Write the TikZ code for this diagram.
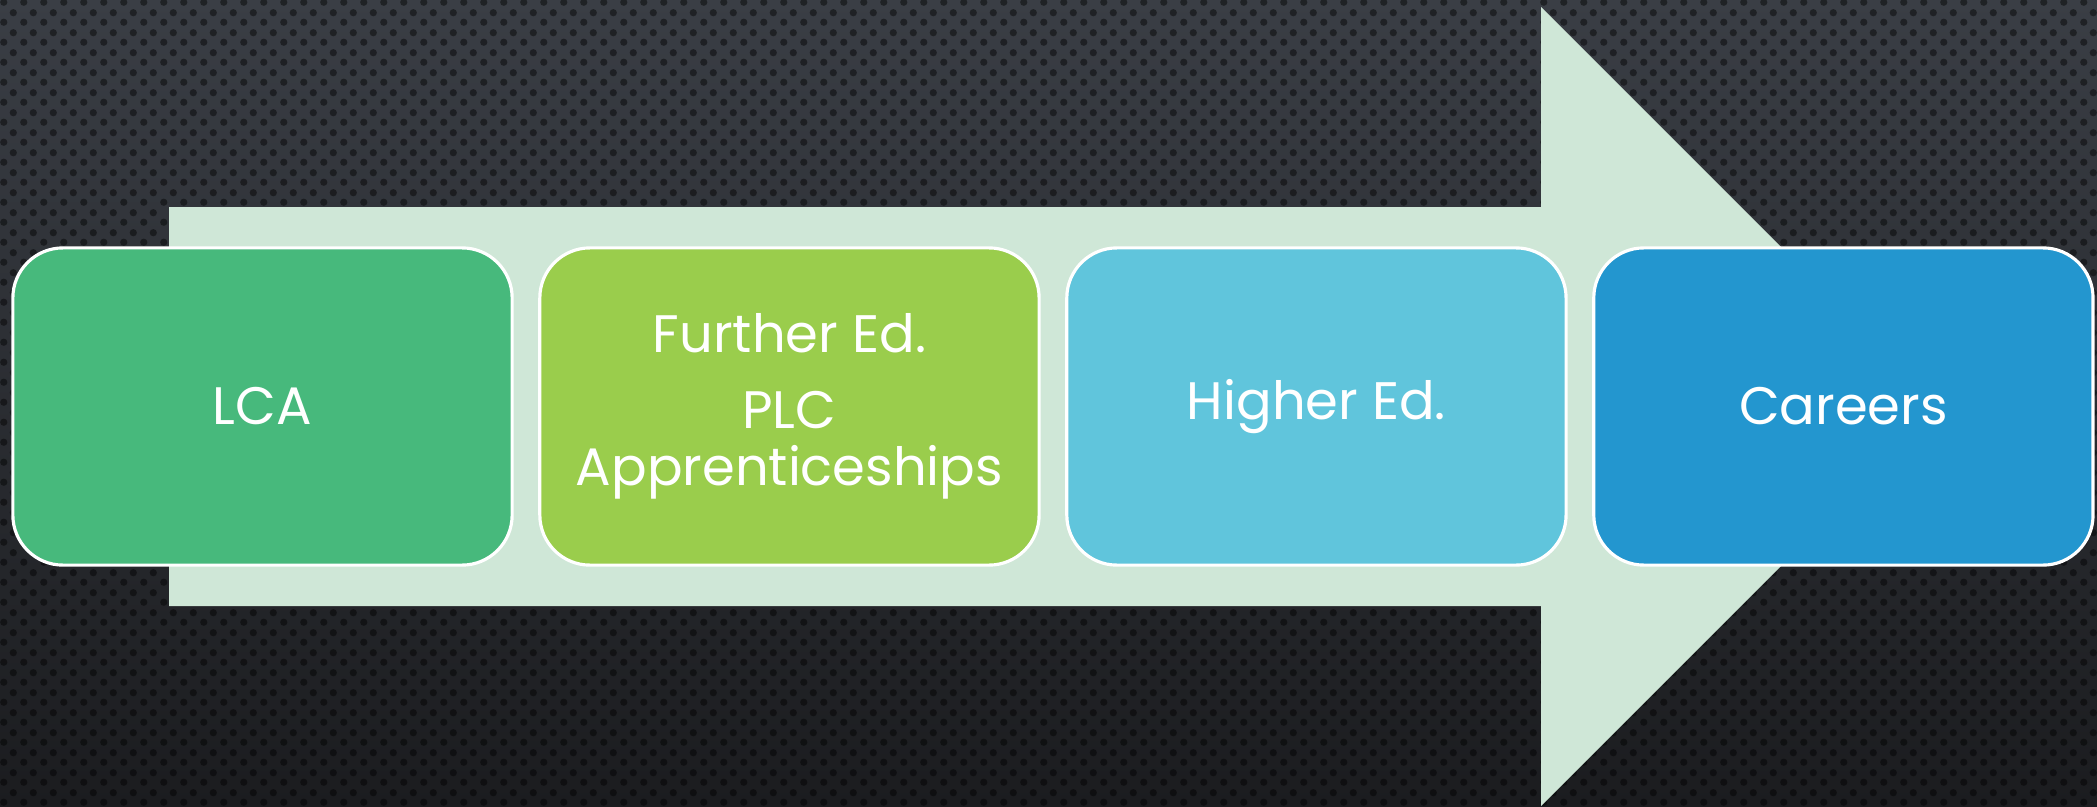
\documentclass[tikz,border=0pt]{standalone}
\usepackage{fontspec}
\setmainfont{Poppins}
\usetikzlibrary{positioning,patterns}

\definecolor{bgtop}{HTML}{3A3E45}
\definecolor{bgbot}{HTML}{1B1C1F}
\definecolor{arrowcol}{HTML}{CFE7D7}
\definecolor{lcacol}{HTML}{47B97C}
\definecolor{furthercol}{HTML}{9ACD4C}
\definecolor{highercol}{HTML}{60C5DC}
\definecolor{careercol}{HTML}{2396CF}

% petits points du fond
\pgfdeclarepatternformonly{holes}{\pgfpointorigin}{\pgfpoint{0.2cm}{0.2cm}}{\pgfpoint{0.2cm}{0.2cm}}{
  \pgfpathcircle{\pgfpoint{0.05cm}{0.05cm}}{0.038cm}
  \pgfpathcircle{\pgfpoint{0.15cm}{0.15cm}}{0.038cm}
  \pgfusepath{fill}
}

\begin{document}
\begin{tikzpicture}  % ------ Parcours apres le LCA --------------
      [x=0.01cm,y=-0.01cm,
       stage/.style={draw=white, line width=0.9pt, rounded corners=0.5cm,
                     minimum width=4.99cm, minimum height=3.17cm, inner sep=0pt,
                     text=white, align=center, font=\fontsize{15}{16.2}\selectfont}]

    \useasboundingbox (0,0) rectangle (2097,806);
    \shade[top color=bgtop, bottom color=bgbot] (0,0) rectangle (2097,806);
    \fill[pattern=holes, pattern color=black, fill opacity=0.45] (0,0) rectangle (2097,806);

    \coordinate (S1) at (169,207);
    \coordinate (S2) at (1541,207);
    \coordinate (H1) at (1541,7);
    \coordinate (T)  at (1940.5,406.5);
    \coordinate (H2) at (1541,806);
    \coordinate (S3) at (1541,606);
    \coordinate (S4) at (169,606);

    \fill[arrowcol] (S1) -- (S2) -- (H1) -- (T) -- (H2) -- (S3) -- (S4) -- cycle;

    \node[stage, fill=lcacol] (lca) at (262.5,406.5) {LCA};
    \node[stage, fill=furthercol, right=0.245cm of lca] (further)
        {Further Ed.\\[5.4pt] PLC\\ Apprenticeships};
    \node[stage, fill=highercol, right=0.245cm of further] (higher) {Higher Ed.};
    \node[stage, fill=careercol, right=0.245cm of higher] (careers) {Careers};
\end{tikzpicture}
\end{document}
